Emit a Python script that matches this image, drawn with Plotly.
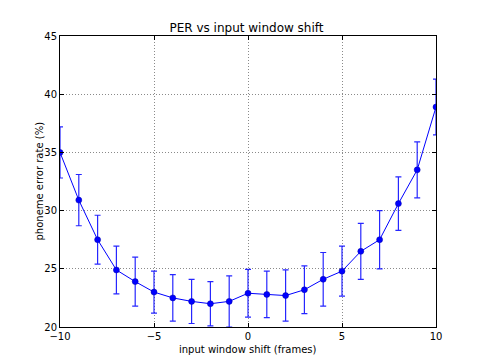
import plotly.graph_objects as go

shift = [-10, -9, -8, -7, -6, -5, -4, -3, -2, -1, 0, 1, 2, 3, 4, 5, 6, 7, 8, 9, 10]
per = [35.0, 30.9, 27.5, 24.9, 23.9, 23.0, 22.5, 22.2, 22.0, 22.2, 22.9,
       22.8, 22.7, 23.2, 24.1, 24.8, 26.5, 27.5, 30.6, 33.5, 38.9]
err = [2.2, 2.2, 2.1, 2.05, 2.1, 1.8, 2.0, 1.9, 1.9, 2.2, 2.05,
       2.0, 2.2, 2.05, 2.3, 2.15, 2.4, 2.5, 2.3, 2.4, 2.4]

xticks = [-10, -5, 0, 5, 10]
yticks = [20, 25, 30, 35, 40, 45]

# page body has an 8px default margin; compensate
OFF = 8
W, H = 485 - OFF, 364 - OFF
L, R, T, B = 60 - OFF, 49, 36 - OFF, 37

fig = go.Figure()
fig.add_trace(go.Scatter(
    x=shift, y=per, mode="lines+markers",
    line=dict(color="blue", width=1),
    marker=dict(color="blue", size=6, line=dict(color="#0000aa", width=0.5)),
    error_y=dict(type="data", array=err, visible=True, color="rgba(0,0,255,0.85)",
                 thickness=1.2, width=3),
    showlegend=False,
))

axis_common = dict(
    showline=True, linecolor="black", linewidth=1, mirror="allticks",
    ticks="inside", ticklen=4, tickcolor="black",
    showgrid=True, gridcolor="#8a8a8a", griddash="1px,2px", gridwidth=1,
    zeroline=False, automargin=False,
    tickfont=dict(family="DejaVu Sans", size=10, color="black"),
)

fig.update_layout(
    width=W, height=H,
    margin=dict(l=L, r=R, t=T, b=B),
    paper_bgcolor="white", plot_bgcolor="white",
    title=dict(text="PER vs input window shift", x=0.5, xanchor="center",
               y=1 - (28 - OFF) / H, yanchor="middle", yref="container",
               font=dict(family="DejaVu Sans", size=12, color="black")),
    xaxis=dict(range=[-10, 10], tickvals=xticks, **axis_common),
    yaxis=dict(range=[20, 45], tickvals=yticks, **axis_common),
    annotations=[
        dict(text="input window shift (frames)", xref="paper", yref="paper",
             x=0.5, y=-(349 - 327) / (H - T - B), xanchor="center", yanchor="middle",
             showarrow=False, font=dict(family="DejaVu Sans", size=10, color="black")),
        dict(text="phoneme error rate (%)", xref="paper", yref="paper",
             x=-(60 - 39) / (W - L - R), y=0.5, xanchor="center", yanchor="middle",
             textangle=-90, showarrow=False,
             font=dict(family="DejaVu Sans", size=10, color="black")),
    ],
)

fig.write_html("out.html")
